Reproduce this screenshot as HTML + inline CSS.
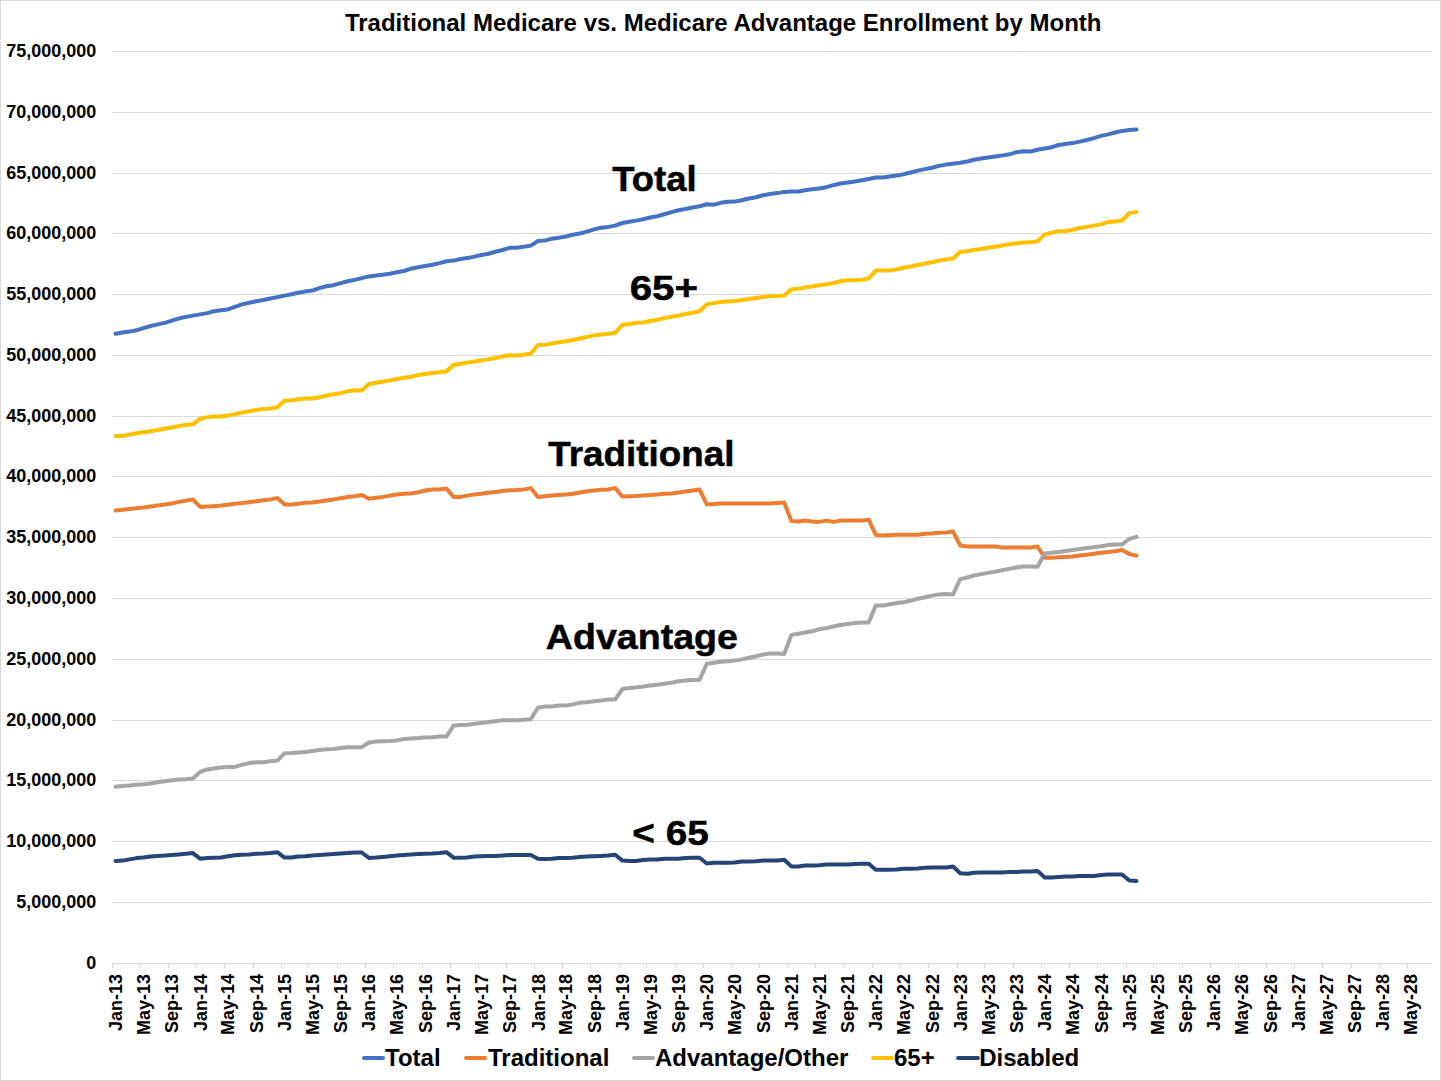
<!DOCTYPE html>
<html><head><meta charset="utf-8"><title>Traditional Medicare vs. Medicare Advantage Enrollment by Month</title>
<style>
html,body{margin:0;padding:0;background:#fff;}
body{width:1441px;height:1081px;overflow:hidden;}
svg{display:block;}
text{font-family:"Liberation Sans",Arial,sans-serif;font-weight:bold;fill:#000;}
.g{stroke:#d9d9d9;stroke-width:1;fill:none;}
.s{fill:none;stroke-width:4;stroke-linejoin:round;stroke-linecap:round;}
.yl{font-size:18px;text-anchor:end;}
.xl{font-size:18px;text-anchor:end;}
.ttl{font-size:24px;text-anchor:middle;}
.lg{font-size:24px;}
.an{font-size:35.4px;stroke:#000;stroke-width:0.5px;}
</style></head><body>
<svg width="1441" height="1081" viewBox="0 0 1441 1081">
<rect x="0.5" y="0.5" width="1440" height="1080" fill="#fff" stroke="#d9d9d9" stroke-width="1"/>
<text x="723.2" y="30.7" class="ttl">Traditional Medicare vs. Medicare Advantage Enrollment by Month</text>
<line x1="112" x2="1431.6" y1="51.5" y2="51.5" class="g"/>
<line x1="112" x2="1431.6" y1="112.5" y2="112.5" class="g"/>
<line x1="112" x2="1431.6" y1="173.5" y2="173.5" class="g"/>
<line x1="112" x2="1431.6" y1="233.5" y2="233.5" class="g"/>
<line x1="112" x2="1431.6" y1="294.5" y2="294.5" class="g"/>
<line x1="112" x2="1431.6" y1="355.5" y2="355.5" class="g"/>
<line x1="112" x2="1431.6" y1="416.5" y2="416.5" class="g"/>
<line x1="112" x2="1431.6" y1="476.5" y2="476.5" class="g"/>
<line x1="112" x2="1431.6" y1="537.5" y2="537.5" class="g"/>
<line x1="112" x2="1431.6" y1="598.5" y2="598.5" class="g"/>
<line x1="112" x2="1431.6" y1="659.5" y2="659.5" class="g"/>
<line x1="112" x2="1431.6" y1="720.5" y2="720.5" class="g"/>
<line x1="112" x2="1431.6" y1="780.5" y2="780.5" class="g"/>
<line x1="112" x2="1431.6" y1="841.5" y2="841.5" class="g"/>
<line x1="112" x2="1431.6" y1="902.5" y2="902.5" class="g"/>
<line x1="112" x2="1431.6" y1="963.5" y2="963.5" class="g"/>
<line x1="112.5" x2="112.5" y1="964" y2="968" class="g"/>
<line x1="140.5" x2="140.5" y1="964" y2="968" class="g"/>
<line x1="168.5" x2="168.5" y1="964" y2="968" class="g"/>
<line x1="196.5" x2="196.5" y1="964" y2="968" class="g"/>
<line x1="224.5" x2="224.5" y1="964" y2="968" class="g"/>
<line x1="253.5" x2="253.5" y1="964" y2="968" class="g"/>
<line x1="281.5" x2="281.5" y1="964" y2="968" class="g"/>
<line x1="308.5" x2="308.5" y1="964" y2="968" class="g"/>
<line x1="337.5" x2="337.5" y1="964" y2="968" class="g"/>
<line x1="365.5" x2="365.5" y1="964" y2="968" class="g"/>
<line x1="393.5" x2="393.5" y1="964" y2="968" class="g"/>
<line x1="422.5" x2="422.5" y1="964" y2="968" class="g"/>
<line x1="450.5" x2="450.5" y1="964" y2="968" class="g"/>
<line x1="478.5" x2="478.5" y1="964" y2="968" class="g"/>
<line x1="506.5" x2="506.5" y1="964" y2="968" class="g"/>
<line x1="534.5" x2="534.5" y1="964" y2="968" class="g"/>
<line x1="562.5" x2="562.5" y1="964" y2="968" class="g"/>
<line x1="590.5" x2="590.5" y1="964" y2="968" class="g"/>
<line x1="619.5" x2="619.5" y1="964" y2="968" class="g"/>
<line x1="646.5" x2="646.5" y1="964" y2="968" class="g"/>
<line x1="675.5" x2="675.5" y1="964" y2="968" class="g"/>
<line x1="703.5" x2="703.5" y1="964" y2="968" class="g"/>
<line x1="731.5" x2="731.5" y1="964" y2="968" class="g"/>
<line x1="759.5" x2="759.5" y1="964" y2="968" class="g"/>
<line x1="788.5" x2="788.5" y1="964" y2="968" class="g"/>
<line x1="815.5" x2="815.5" y1="964" y2="968" class="g"/>
<line x1="844.5" x2="844.5" y1="964" y2="968" class="g"/>
<line x1="872.5" x2="872.5" y1="964" y2="968" class="g"/>
<line x1="900.5" x2="900.5" y1="964" y2="968" class="g"/>
<line x1="928.5" x2="928.5" y1="964" y2="968" class="g"/>
<line x1="957.5" x2="957.5" y1="964" y2="968" class="g"/>
<line x1="984.5" x2="984.5" y1="964" y2="968" class="g"/>
<line x1="1013.5" x2="1013.5" y1="964" y2="968" class="g"/>
<line x1="1041.5" x2="1041.5" y1="964" y2="968" class="g"/>
<line x1="1069.5" x2="1069.5" y1="964" y2="968" class="g"/>
<line x1="1097.5" x2="1097.5" y1="964" y2="968" class="g"/>
<line x1="1126.5" x2="1126.5" y1="964" y2="968" class="g"/>
<line x1="1153.5" x2="1153.5" y1="964" y2="968" class="g"/>
<line x1="1182.5" x2="1182.5" y1="964" y2="968" class="g"/>
<line x1="1210.5" x2="1210.5" y1="964" y2="968" class="g"/>
<line x1="1238.5" x2="1238.5" y1="964" y2="968" class="g"/>
<line x1="1266.5" x2="1266.5" y1="964" y2="968" class="g"/>
<line x1="1294.5" x2="1294.5" y1="964" y2="968" class="g"/>
<line x1="1322.5" x2="1322.5" y1="964" y2="968" class="g"/>
<line x1="1351.5" x2="1351.5" y1="964" y2="968" class="g"/>
<line x1="1379.5" x2="1379.5" y1="964" y2="968" class="g"/>
<line x1="1407.5" x2="1407.5" y1="964" y2="968" class="g"/>
<text x="96.3" y="968.95" class="yl">0</text>
<text x="96.3" y="907.95" class="yl">5,000,000</text>
<text x="96.3" y="846.95" class="yl">10,000,000</text>
<text x="96.3" y="785.95" class="yl">15,000,000</text>
<text x="96.3" y="725.95" class="yl">20,000,000</text>
<text x="96.3" y="664.95" class="yl">25,000,000</text>
<text x="96.3" y="603.95" class="yl">30,000,000</text>
<text x="96.3" y="542.95" class="yl">35,000,000</text>
<text x="96.3" y="481.95" class="yl">40,000,000</text>
<text x="96.3" y="421.95" class="yl">45,000,000</text>
<text x="96.3" y="360.95" class="yl">50,000,000</text>
<text x="96.3" y="299.95" class="yl">55,000,000</text>
<text x="96.3" y="238.95" class="yl">60,000,000</text>
<text x="96.3" y="178.95" class="yl">65,000,000</text>
<text x="96.3" y="117.95" class="yl">70,000,000</text>
<text x="96.3" y="56.95" class="yl">75,000,000</text>
<text transform="translate(122.2,973.9) rotate(-90)" class="xl">Jan-13</text>
<text transform="translate(150.0,973.9) rotate(-90)" class="xl">May-13</text>
<text transform="translate(178.4,973.9) rotate(-90)" class="xl">Sep-13</text>
<text transform="translate(206.6,973.9) rotate(-90)" class="xl">Jan-14</text>
<text transform="translate(234.4,973.9) rotate(-90)" class="xl">May-14</text>
<text transform="translate(262.8,973.9) rotate(-90)" class="xl">Sep-14</text>
<text transform="translate(291.0,973.9) rotate(-90)" class="xl">Jan-15</text>
<text transform="translate(318.8,973.9) rotate(-90)" class="xl">May-15</text>
<text transform="translate(347.2,973.9) rotate(-90)" class="xl">Sep-15</text>
<text transform="translate(375.4,973.9) rotate(-90)" class="xl">Jan-16</text>
<text transform="translate(403.4,973.9) rotate(-90)" class="xl">May-16</text>
<text transform="translate(431.9,973.9) rotate(-90)" class="xl">Sep-16</text>
<text transform="translate(460.1,973.9) rotate(-90)" class="xl">Jan-17</text>
<text transform="translate(487.8,973.9) rotate(-90)" class="xl">May-17</text>
<text transform="translate(516.3,973.9) rotate(-90)" class="xl">Sep-17</text>
<text transform="translate(544.5,973.9) rotate(-90)" class="xl">Jan-18</text>
<text transform="translate(572.3,973.9) rotate(-90)" class="xl">May-18</text>
<text transform="translate(600.7,973.9) rotate(-90)" class="xl">Sep-18</text>
<text transform="translate(628.9,973.9) rotate(-90)" class="xl">Jan-19</text>
<text transform="translate(656.7,973.9) rotate(-90)" class="xl">May-19</text>
<text transform="translate(685.1,973.9) rotate(-90)" class="xl">Sep-19</text>
<text transform="translate(713.3,973.9) rotate(-90)" class="xl">Jan-20</text>
<text transform="translate(741.3,973.9) rotate(-90)" class="xl">May-20</text>
<text transform="translate(769.8,973.9) rotate(-90)" class="xl">Sep-20</text>
<text transform="translate(798.0,973.9) rotate(-90)" class="xl">Jan-21</text>
<text transform="translate(825.7,973.9) rotate(-90)" class="xl">May-21</text>
<text transform="translate(854.2,973.9) rotate(-90)" class="xl">Sep-21</text>
<text transform="translate(882.4,973.9) rotate(-90)" class="xl">Jan-22</text>
<text transform="translate(910.1,973.9) rotate(-90)" class="xl">May-22</text>
<text transform="translate(938.6,973.9) rotate(-90)" class="xl">Sep-22</text>
<text transform="translate(966.8,973.9) rotate(-90)" class="xl">Jan-23</text>
<text transform="translate(994.6,973.9) rotate(-90)" class="xl">May-23</text>
<text transform="translate(1023.0,973.9) rotate(-90)" class="xl">Sep-23</text>
<text transform="translate(1051.2,973.9) rotate(-90)" class="xl">Jan-24</text>
<text transform="translate(1079.2,973.9) rotate(-90)" class="xl">May-24</text>
<text transform="translate(1107.7,973.9) rotate(-90)" class="xl">Sep-24</text>
<text transform="translate(1135.9,973.9) rotate(-90)" class="xl">Jan-25</text>
<text transform="translate(1163.6,973.9) rotate(-90)" class="xl">May-25</text>
<text transform="translate(1192.1,973.9) rotate(-90)" class="xl">Sep-25</text>
<text transform="translate(1220.3,973.9) rotate(-90)" class="xl">Jan-26</text>
<text transform="translate(1248.0,973.9) rotate(-90)" class="xl">May-26</text>
<text transform="translate(1276.5,973.9) rotate(-90)" class="xl">Sep-26</text>
<text transform="translate(1304.7,973.9) rotate(-90)" class="xl">Jan-27</text>
<text transform="translate(1332.5,973.9) rotate(-90)" class="xl">May-27</text>
<text transform="translate(1360.9,973.9) rotate(-90)" class="xl">Sep-27</text>
<text transform="translate(1389.1,973.9) rotate(-90)" class="xl">Jan-28</text>
<text transform="translate(1417.1,973.9) rotate(-90)" class="xl">May-28</text>
<polyline points="115.6,333.8 122.8,332.5 129.3,331.6 136.5,330.3 143.4,328.1 150.6,326.0 157.5,324.4 164.7,322.9 171.8,320.6 178.8,318.5 185.9,316.9 192.9,315.6 200.1,314.4 207.2,313.1 213.7,311.3 220.9,310.3 227.8,309.4 235.0,306.9 241.9,304.4 249.1,302.8 256.3,301.3 263.2,300.0 270.4,298.5 277.3,297.1 284.5,295.6 291.6,294.3 298.1,292.7 305.3,291.6 312.2,290.6 319.4,288.1 326.3,286.2 333.5,285.2 340.7,283.1 347.6,281.2 354.8,279.9 361.7,278.1 368.9,276.4 376.1,275.6 382.8,274.7 389.9,273.7 396.9,272.2 404.0,271.0 411.0,268.7 418.1,267.2 425.3,266.0 432.3,264.7 439.4,263.1 446.4,261.2 453.5,260.6 460.7,259.0 467.2,258.1 474.3,256.6 481.3,255.0 488.5,253.7 495.4,251.8 502.6,250.0 509.7,247.8 516.7,247.7 523.8,246.8 530.8,245.6 537.9,241.0 545.1,240.6 551.6,238.7 558.8,237.7 565.7,236.6 572.9,234.7 579.8,233.5 587.0,231.6 594.1,229.4 601.1,227.7 608.3,226.9 615.2,225.6 622.4,223.0 629.5,221.7 636.0,220.6 643.2,219.3 650.1,217.5 657.3,216.2 664.2,214.3 671.4,212.2 678.6,210.2 685.5,209.0 692.7,207.5 699.6,206.2 706.8,204.3 713.9,204.7 720.6,202.8 727.8,201.8 734.8,201.6 741.9,200.3 748.9,198.5 756.0,197.2 763.2,195.2 770.1,194.1 777.3,193.1 784.2,191.9 791.4,191.4 798.6,191.5 805.1,190.2 812.2,189.3 819.2,188.5 826.3,187.2 833.3,185.2 840.4,183.5 847.6,182.5 854.6,181.5 861.7,180.3 868.7,179.0 875.8,177.5 883.0,177.5 889.5,176.5 896.6,175.6 903.6,174.3 910.8,172.5 917.7,170.6 924.9,169.1 932.0,167.7 939.0,165.9 946.1,164.6 953.1,163.7 960.2,162.8 967.4,161.5 973.9,159.7 981.1,158.5 988.0,157.5 995.2,156.5 1002.1,155.6 1009.3,154.3 1016.4,152.2 1023.4,151.2 1030.6,151.5 1037.5,149.7 1044.7,148.5 1051.8,147.2 1058.5,145.0 1065.7,144.1 1072.6,143.1 1079.8,141.6 1086.8,140.0 1093.9,138.1 1101.1,135.9 1108.0,134.4 1115.2,132.5 1122.1,130.9 1129.3,130.0 1136.5,129.6" stroke="#4472C4" class="s"/>
<polyline points="115.6,510.6 122.8,509.7 129.3,509.0 136.5,508.2 143.4,507.5 150.6,506.6 157.5,505.6 164.7,504.6 171.8,503.5 178.8,501.9 185.9,500.6 192.9,499.4 200.1,506.9 207.2,506.6 213.7,506.2 220.9,505.6 227.8,504.7 235.0,503.7 241.9,503.1 249.1,502.2 256.3,501.2 263.2,500.2 270.4,499.4 277.3,498.1 284.5,504.6 291.6,504.6 298.1,503.7 305.3,502.7 312.2,502.5 319.4,501.5 326.3,500.4 333.5,499.4 340.7,498.2 347.6,497.1 354.8,496.2 361.7,495.0 368.9,498.7 376.1,497.7 382.8,496.9 389.9,495.6 396.9,494.6 404.0,493.7 411.0,493.5 418.1,492.2 425.3,490.4 432.3,489.6 439.4,489.6 446.4,488.5 453.5,496.9 460.7,496.9 467.2,495.6 474.3,494.4 481.3,493.7 488.5,492.7 495.4,491.9 502.6,491.0 509.7,490.2 516.7,490.0 523.8,489.4 530.8,488.1 537.9,496.9 545.1,496.2 551.6,495.6 558.8,495.0 565.7,494.6 572.9,493.7 579.8,492.5 587.0,491.2 594.1,490.4 601.1,489.7 608.3,489.4 615.2,488.1 622.4,496.5 629.5,496.2 636.0,495.9 643.2,495.4 650.1,495.0 657.3,494.4 664.2,493.7 671.4,493.4 678.6,492.5 685.5,491.5 692.7,490.6 699.6,489.6 706.8,504.4 713.9,504.0 720.6,503.5 727.8,503.5 734.8,503.5 741.9,503.5 748.9,503.5 756.0,503.5 763.2,503.5 770.1,503.5 777.3,502.9 784.2,502.5 791.4,521.1 798.6,521.6 805.1,520.6 812.2,521.5 819.2,521.9 826.3,520.6 833.3,521.9 840.4,520.6 847.6,520.6 854.6,520.6 861.7,520.6 868.7,519.7 875.8,535.0 883.0,535.6 889.5,535.0 896.6,534.7 903.6,534.7 910.8,534.7 917.7,534.7 924.9,533.7 932.0,533.5 939.0,532.7 946.1,532.5 953.1,531.5 960.2,545.6 967.4,546.5 973.9,546.5 981.1,546.5 988.0,546.5 995.2,546.5 1002.1,547.5 1009.3,547.5 1016.4,547.5 1023.4,547.5 1030.6,547.5 1037.5,546.5 1044.7,557.7 1051.8,557.7 1058.5,557.2 1065.7,556.9 1072.6,556.5 1079.8,555.6 1086.8,554.7 1093.9,553.7 1101.1,552.7 1108.0,551.9 1115.2,551.2 1122.1,550.0 1129.3,554.0 1136.5,555.6" stroke="#ED7D31" class="s"/>
<polyline points="115.6,786.8 122.8,786.0 129.3,785.6 136.5,784.7 143.4,784.3 150.6,783.5 157.5,782.2 164.7,781.2 171.8,780.2 178.8,779.5 185.9,779.3 192.9,778.5 200.1,771.9 207.2,769.4 213.7,768.4 220.9,767.5 227.8,766.9 235.0,766.9 241.9,764.7 249.1,763.1 256.3,762.2 263.2,762.2 270.4,761.2 277.3,760.6 284.5,753.3 291.6,753.1 298.1,752.5 305.3,752.1 312.2,751.0 319.4,750.0 326.3,749.3 333.5,749.0 340.7,748.1 347.6,747.2 354.8,747.2 361.7,747.2 368.9,742.5 376.1,741.6 382.8,741.2 389.9,740.9 396.9,740.4 404.0,739.0 411.0,738.4 418.1,738.1 425.3,737.5 432.3,737.2 439.4,736.6 446.4,736.6 453.5,725.6 460.7,725.0 467.2,724.7 474.3,723.7 481.3,723.1 488.5,722.1 495.4,721.2 502.6,720.3 509.7,720.3 516.7,720.3 523.8,719.7 530.8,719.3 537.9,707.7 545.1,706.5 551.6,706.5 558.8,705.6 565.7,705.6 572.9,704.4 579.8,702.7 587.0,702.2 594.1,701.2 601.1,700.4 608.3,699.4 615.2,699.4 622.4,689.0 629.5,688.1 636.0,687.5 643.2,686.6 650.1,685.6 657.3,684.7 664.2,683.7 671.4,682.7 678.6,681.2 685.5,680.6 692.7,680.0 699.6,679.7 706.8,663.7 713.9,662.7 720.6,661.8 727.8,661.2 734.8,660.6 741.9,659.4 748.9,657.7 756.0,656.2 763.2,654.4 770.1,653.5 777.3,653.5 784.2,654.0 791.4,634.9 798.6,633.7 805.1,632.5 812.2,631.2 819.2,629.3 826.3,628.1 833.3,626.5 840.4,625.0 847.6,624.0 854.6,623.1 861.7,622.5 868.7,622.5 875.8,605.6 883.0,605.6 889.5,604.3 896.6,603.1 903.6,602.2 910.8,600.6 917.7,598.7 924.9,597.2 932.0,595.6 939.0,594.4 946.1,594.1 953.1,594.4 960.2,579.2 967.4,577.5 973.9,575.5 981.1,574.1 988.0,572.9 995.2,571.7 1002.1,570.3 1009.3,568.9 1016.4,567.5 1023.4,566.5 1030.6,566.5 1037.5,566.8 1044.7,553.5 1051.8,552.7 1058.5,551.9 1065.7,551.0 1072.6,550.0 1079.8,549.0 1086.8,548.1 1093.9,547.2 1101.1,546.2 1108.0,545.0 1115.2,544.6 1122.1,544.4 1129.3,539.0 1136.5,536.9" stroke="#A5A5A5" class="s"/>
<polyline points="115.6,436.0 122.8,436.0 129.3,434.6 136.5,433.3 143.4,432.2 150.6,431.2 157.5,430.0 164.7,428.7 171.8,427.5 178.8,426.0 185.9,425.0 192.9,424.3 200.1,418.7 207.2,417.2 213.7,416.6 220.9,416.6 227.8,415.6 235.0,414.1 241.9,412.5 249.1,411.2 256.3,410.0 263.2,409.1 270.4,408.5 277.3,407.2 284.5,400.6 291.6,400.2 298.1,399.3 305.3,398.5 312.2,398.5 319.4,397.2 326.3,395.6 333.5,394.3 340.7,393.1 347.6,391.2 354.8,390.3 361.7,390.6 368.9,384.0 376.1,382.7 382.8,381.5 389.9,380.4 396.9,379.0 404.0,377.7 411.0,376.9 418.1,375.0 425.3,374.0 432.3,373.1 439.4,372.2 446.4,371.5 453.5,365.0 460.7,363.7 467.2,362.7 474.3,361.6 481.3,360.6 488.5,359.3 495.4,358.1 502.6,356.5 509.7,355.3 516.7,355.6 523.8,354.7 530.8,353.5 537.9,345.0 545.1,344.7 551.6,343.5 558.8,342.2 565.7,341.2 572.9,340.0 579.8,338.5 587.0,336.9 594.1,335.4 601.1,334.4 608.3,333.7 615.2,332.7 622.4,324.8 629.5,324.0 636.0,322.7 643.2,322.5 650.1,321.0 657.3,319.7 664.2,318.1 671.4,316.8 678.6,315.6 685.5,314.0 692.7,312.7 699.6,311.2 706.8,304.4 713.9,303.1 720.6,302.1 727.8,301.5 734.8,301.0 741.9,300.0 748.9,299.0 756.0,297.9 763.2,297.1 770.1,296.2 777.3,295.9 784.2,295.6 791.4,289.2 798.6,288.7 805.1,287.5 812.2,286.5 819.2,285.2 826.3,284.3 833.3,283.1 840.4,281.2 847.6,280.3 854.6,280.3 861.7,279.7 868.7,278.5 875.8,270.6 883.0,270.6 889.5,270.6 896.6,269.4 903.6,267.7 910.8,266.5 917.7,265.0 924.9,263.5 932.0,262.2 939.0,260.6 946.1,259.4 953.1,258.5 960.2,251.8 967.4,251.2 973.9,250.0 981.1,249.0 988.0,247.8 995.2,246.8 1002.1,245.6 1009.3,244.3 1016.4,243.3 1023.4,242.5 1030.6,242.2 1037.5,241.2 1044.7,234.4 1051.8,232.7 1058.5,231.2 1065.7,231.0 1072.6,229.7 1079.8,227.9 1086.8,226.9 1093.9,225.6 1101.1,224.4 1108.0,221.9 1115.2,221.5 1122.1,220.6 1129.3,213.1 1136.5,211.9" stroke="#FFC000" class="s"/>
<polyline points="115.6,861.0 122.8,860.6 129.3,859.4 136.5,858.1 143.4,857.5 150.6,856.6 157.5,856.0 164.7,855.6 171.8,855.0 178.8,854.4 185.9,853.7 192.9,853.1 200.1,858.7 207.2,858.1 213.7,857.7 220.9,857.5 227.8,856.2 235.0,855.2 241.9,854.7 249.1,854.4 256.3,853.7 263.2,853.5 270.4,853.1 277.3,852.2 284.5,857.6 291.6,857.5 298.1,856.6 305.3,856.2 312.2,855.6 319.4,855.0 326.3,854.6 333.5,854.1 340.7,853.5 347.6,853.1 354.8,852.5 361.7,852.5 368.9,857.9 376.1,857.5 382.8,856.9 389.9,856.2 396.9,855.6 404.0,855.0 411.0,854.4 418.1,854.1 425.3,853.7 432.3,853.5 439.4,853.1 446.4,852.2 453.5,857.7 460.7,857.7 467.2,857.5 474.3,856.6 481.3,856.2 488.5,855.9 495.4,855.9 502.6,855.6 509.7,855.0 516.7,855.0 523.8,855.0 530.8,855.0 537.9,858.7 545.1,859.0 551.6,858.7 558.8,857.9 565.7,857.9 572.9,857.7 579.8,856.9 587.0,856.6 594.1,856.2 601.1,855.9 608.3,855.6 615.2,854.7 622.4,860.6 629.5,861.0 636.0,861.0 643.2,860.0 650.1,859.6 657.3,859.6 664.2,858.7 671.4,858.7 678.6,858.7 685.5,857.9 692.7,857.7 699.6,857.7 706.8,863.5 713.9,862.7 720.6,862.7 727.8,862.7 734.8,862.5 741.9,861.6 748.9,861.6 756.0,861.2 763.2,860.6 770.1,860.6 777.3,860.4 784.2,859.7 791.4,866.4 798.6,866.6 805.1,865.6 812.2,865.6 819.2,865.2 826.3,864.6 833.3,864.6 840.4,864.6 847.6,864.6 854.6,864.0 861.7,863.7 868.7,863.7 875.8,869.7 883.0,869.7 889.5,869.7 896.6,869.4 903.6,868.7 910.8,868.7 917.7,868.4 924.9,867.7 932.0,867.5 939.0,867.5 946.1,867.5 953.1,866.5 960.2,873.3 967.4,873.7 973.9,872.7 981.1,872.5 988.0,872.5 995.2,872.5 1002.1,872.5 1009.3,871.9 1016.4,871.9 1023.4,871.6 1030.6,871.5 1037.5,870.9 1044.7,877.5 1051.8,877.5 1058.5,876.9 1065.7,876.6 1072.6,876.6 1079.8,876.0 1086.8,875.9 1093.9,875.9 1101.1,875.0 1108.0,874.4 1115.2,874.4 1122.1,874.4 1129.3,880.6 1136.5,881.0" stroke="#264478" class="s"/>
<text x="612.37" y="190.55" class="an" textLength="84.14" lengthAdjust="spacingAndGlyphs">Total</text>
<text x="629.69" y="299.8" class="an" textLength="68.33" lengthAdjust="spacingAndGlyphs">65+</text>
<text x="548.37" y="465.6" class="an" textLength="186" lengthAdjust="spacingAndGlyphs">Traditional</text>
<text x="545.83" y="648.65" class="an" textLength="192.07" lengthAdjust="spacingAndGlyphs">Advantage</text>
<text x="632.27" y="844.8" class="an" textLength="76.43" lengthAdjust="spacingAndGlyphs">&lt; 65</text>
<g class="lgd">
<line x1="364" x2="383" y1="1058" y2="1058" stroke="#4472C4" class="s"/><text x="385" y="1065.8" class="lg">Total</text>
<line x1="466" x2="485" y1="1058" y2="1058" stroke="#ED7D31" class="s"/><text x="488" y="1065.8" class="lg">Traditional</text>
<line x1="634" x2="653" y1="1058" y2="1058" stroke="#A5A5A5" class="s"/><text x="655" y="1065.8" class="lg">Advantage/Other</text>
<line x1="873" x2="892" y1="1058" y2="1058" stroke="#FFC000" class="s"/><text x="894" y="1065.8" class="lg">65+</text>
<line x1="958" x2="978" y1="1058" y2="1058" stroke="#264478" class="s"/><text x="979.2" y="1065.8" class="lg">Disabled</text>
</g>
</svg>
</body></html>
